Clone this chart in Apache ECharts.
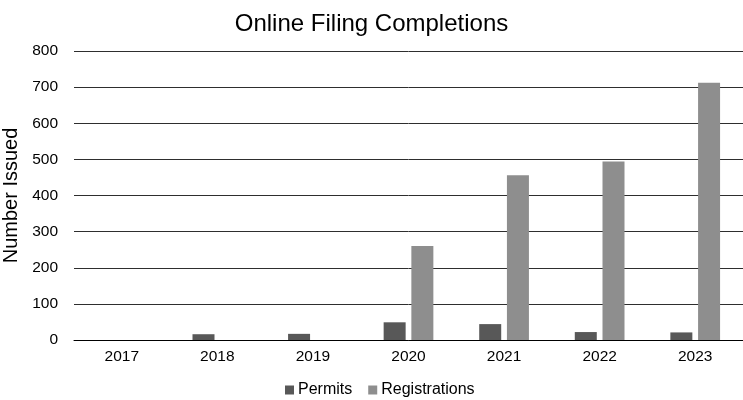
<!DOCTYPE html>
<html>
<head>
<meta charset="utf-8">
<script src="https://cdn.jsdelivr.net/npm/echarts@6/dist/echarts.min.js"></script>
<style>
  html, body { margin: 0; padding: 0; background: #ffffff; }
  #chart { width: 743px; height: 400px; }
</style>
</head>
<body>
<div id="chart"></div>
<script>
// Yearly online filing completions
const years = ['2017', '2018', '2019', '2020', '2021', '2022', '2023'];
const permits = [0, 16, 17, 49, 44, 22, 21];
const registrations = [0, 0, 0, 260, 456, 494, 712];
const yTicks = { min: 0, max: 800, interval: 100 };

const FONT = '"Liberation Sans", Arial, sans-serif';

const chart = echarts.init(document.getElementById('chart'), null, { renderer: 'canvas' });

chart.setOption({
  backgroundColor: '#ffffff',
  animation: false,
  title: {
    text: 'Online Filing Completions',
    left: 'center',
    top: 7,
    textStyle: { fontFamily: FONT, fontSize: 24, fontWeight: 'normal', color: '#000000' }
  },
  legend: {
    data: ['Permits', 'Registrations'],
    left: 280,
    top: 377,
    itemWidth: 9,
    itemHeight: 9,
    itemGap: 16,
    icon: 'rect',
    textStyle: { fontFamily: FONT, fontSize: 16, color: '#000000', padding: [0, 0, 0, -1] }
  },
  grid: { left: 74, right: 0, top: 51, bottom: 60, outerBoundsMode: 'none', containLabel: false },
  xAxis: {
    type: 'category',
    data: years,
    axisLine: { show: true, lineStyle: { color: '#000000', width: 1 } },
    axisTick: { show: false },
    axisLabel: { fontFamily: FONT, fontSize: 15.5, color: '#000000', margin: 9 }
  },
  yAxis: {
    type: 'value',
    min: yTicks.min,
    max: yTicks.max,
    interval: yTicks.interval,
    name: 'Number Issued',
    nameLocation: 'middle',
    nameGap: 50,
    nameRotate: 90,
    nameTextStyle: { fontFamily: FONT, fontSize: 20, color: '#000000' },
    axisLine: { show: false },
    axisTick: { show: false },
    axisLabel: { fontFamily: FONT, fontSize: 15.5, color: '#000000', margin: 16 },
    splitLine: { show: true, lineStyle: { color: '#2e2e2e', width: 1 } }
  },
  series: [
    {
      name: 'Permits',
      type: 'bar',
      data: permits,
      barWidth: 22,
      barGap: '26%',
      itemStyle: { color: '#585858' }
    },
    {
      name: 'Registrations',
      type: 'bar',
      data: registrations,
      barWidth: 22,
      itemStyle: { color: '#8e8e8e' }
    }
  ]
});
</script>
</body>
</html>
